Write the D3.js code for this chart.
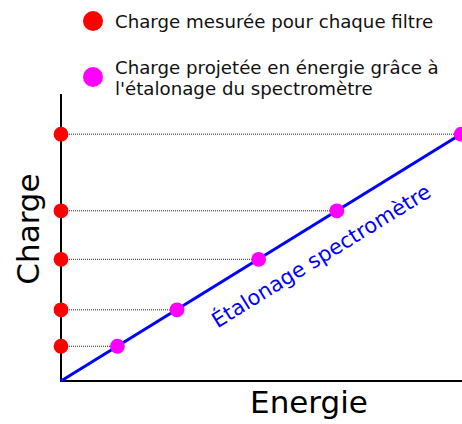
<!DOCTYPE html>
<html>
<head>
<meta charset="utf-8">
<script src="https://cdn.jsdelivr.net/npm/d3@7"></script>
<style>
  html, body { margin: 0; padding: 0; background: #fff; }
  svg { display: block; font-family: "DejaVu Sans", sans-serif; }
</style>
</head>
<body>
<svg id="chart" width="462" height="424"></svg>
<script>
const chargeValues = [1.21, 2.48, 4.24, 5.93, 8.6];
const energyValues = [1.97, 4.05, 6.9, 9.63, 13.97];

// Spectrometer calibration line (energy -> charge)
const calibEnergy = [0, 14];
const calibCharge = [0, 8.62];

const legendLabels = [
  ["Charge mesurée pour chaque filtre"],
  ["Charge projetée en énergie grâce à", "l'étalonage du spectromètre"]
];
const legendColors = ["#ff0000", "#ff00ff"];
const axisTitles = { x: "Energie", y: "Charge" };
const calibLabel = "Étalonage spectromètre";

const svg = d3.select("#chart");

const x = d3.scaleLinear().domain([0, 14]).range([61, 462]);
const y = d3.scaleLinear().domain([0, 10]).range([381, 94]);

// Dotted guides from each measured charge to its projected point
svg.append("g")
  .selectAll("line")
  .data(chargeValues)
  .join("line")
  .attr("x1", x(0))
  .attr("x2", (d, i) => x(energyValues[i]))
  .attr("y1", d => y(d))
  .attr("y2", d => y(d))
  .attr("stroke", "#222")
  .attr("stroke-width", 1)
  .attr("stroke-dasharray", "1,1");

// Axes (plain lines, no ticks)
svg.append("line")
  .attr("x1", x(0)).attr("x2", x(0))
  .attr("y1", y(10)).attr("y2", y(0) + 1)
  .attr("stroke", "#000").attr("stroke-width", 2);
svg.append("line")
  .attr("x1", x(0) - 1).attr("x2", x(14))
  .attr("y1", y(0)).attr("y2", y(0))
  .attr("stroke", "#000").attr("stroke-width", 2);

// Calibration line
const calib = calibEnergy.map((e, i) => [e, calibCharge[i]]);
svg.append("path")
  .datum(calib)
  .attr("d", d3.line().x(d => x(d[0])).y(d => y(d[1])))
  .attr("fill", "none")
  .attr("stroke", "#0000ff")
  .attr("stroke-width", 3);

// Label along the calibration line
const angle = Math.atan2(y(calibCharge[1]) - y(calibCharge[0]), x(calibEnergy[1]) - x(calibEnergy[0])) * 180 / Math.PI;
svg.append("text")
  .attr("transform", `translate(325,262) rotate(${angle})`)
  .attr("text-anchor", "middle")
  .attr("font-size", 21)
  .attr("fill", "#0000ff")
  .text(calibLabel);

// Measured charges on the vertical axis
svg.append("g")
  .selectAll("circle")
  .data(chargeValues)
  .join("circle")
  .attr("cx", x(0))
  .attr("cy", d => y(d))
  .attr("r", 7.4)
  .attr("fill", legendColors[0]);

// Projected points on the calibration line
svg.append("g")
  .selectAll("circle")
  .data(chargeValues)
  .join("circle")
  .attr("cx", (d, i) => x(energyValues[i]))
  .attr("cy", d => y(d))
  .attr("r", 7.4)
  .attr("fill", legendColors[1]);

// Axis titles
svg.append("text")
  .attr("x", 309).attr("y", 413)
  .attr("text-anchor", "middle")
  .attr("font-size", 31)
  .attr("fill", "#000")
  .text(axisTitles.x);
svg.append("text")
  .attr("transform", "translate(38.5,229) rotate(-90)")
  .attr("text-anchor", "middle")
  .attr("font-size", 31)
  .attr("fill", "#000")
  .text(axisTitles.y);

// Legend
const legendY = [21, 77];
const legendBase = [[28], [74, 95]];
legendLabels.forEach((lines, i) => {
  svg.append("circle")
    .attr("cx", 93).attr("cy", legendY[i]).attr("r", 10)
    .attr("fill", legendColors[i]);
  lines.forEach((t, j) => {
    svg.append("text")
      .attr("x", 115).attr("y", legendBase[i][j])
      .attr("font-size", 18.2)
      .attr("fill", "#111")
      .text(t);
  });
});
</script>
</body>
</html>
